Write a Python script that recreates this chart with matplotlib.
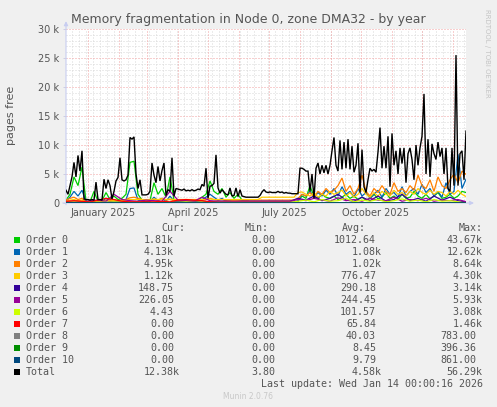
import numpy as np
import pandas as pd
import matplotlib
matplotlib.use('Agg')
import matplotlib.pyplot as plt
from matplotlib.patches import Rectangle

W, H = 497, 407
START = pd.Timestamp('2024-12-10')
END = pd.Timestamp('2026-01-14')

# ---- data (thousands of pages) ----
# Total: one value every 2 days from START
total_k = [2.2,1.5,3.0,4.5,7.0,4.5,8.2,5.5,9.0,0.7,
           0.6,0.6,0.5,0.6,0.5,3.6,0.6,0.6,0.5,4.1,
           2.5,4.0,3.0,0.7,2.0,3.8,4.4,7.8,4.0,3.8,
           4.0,4.8,11.3,11.0,11.4,5.0,2.5,4.0,1.4,1.4,
           1.4,1.5,2.0,6.9,4.8,3.5,6.3,3.8,5.6,6.9,
           1.3,2.3,2.0,7.8,1.2,2.5,2.4,2.3,2.2,2.4,
           2.1,2.2,2.1,2.3,2.1,2.2,2.4,2.3,3.2,2.9,
           6.0,0.8,2.9,3.0,3.4,8.3,2.6,1.7,2.3,1.9,
           1.5,1.4,2.6,1.2,1.3,2.6,1.1,2.3,1.2,1.1,
           1.0,1.0,1.0,1.0,1.0,1.0,1.0,1.3,1.9,2.3,
           1.9,1.8,1.9,1.8,1.8,1.8,2.0,1.8,1.9,1.7,
           1.8,1.7,1.7,1.6,1.6,1.6,1.6,6.0,6.0,5.8,
           5.5,5.5,2.0,5.0,0.8,6.0,6.9,5.0,6.5,5.2,
           6.5,5.0,6.5,9.0,11.3,6.5,5.5,10.8,5.8,10.5,
           6.0,11.0,5.8,9.8,5.3,6.5,10.3,1.8,9.2,2.8,
           1.8,4.0,6.0,5.5,5.8,5.3,8.8,13.0,6.0,9.8,
           6.0,11.5,2.8,12.0,6.5,9.0,5.0,9.5,6.8,9.5,
           3.5,8.5,9.5,7.5,4.0,10.0,6.5,9.5,11.5,18.8,
           5.0,11.0,4.5,10.2,8.5,7.5,10.5,8.0,9.5,5.0,
           9.5,2.5,2.0,9.5,3.0,25.5,3.0,8.5,9.0,4.0,
           12.4]

# Orders 0-3: one value every 4 days
order0_k = [0.5,1.5,4.5,3.0,6.2,0.3,0.2,2.0,0.3,0.4,
            1.8,0.6,1.2,0.6,0.8,1.5,7.0,7.2,1.5,0.5,
            0.3,0.4,3.5,1.5,2.5,1.0,4.5,0.5,0.3,0.3,
            0.3,0.3,0.4,0.5,1.0,1.5,3.8,2.0,1.5,2.5,
            1.0,1.8,0.8,1.5,0.5,0.2,0.1,0.1,0.1,0.1,
            0.1,0.1,0.1,0.1,0.1,0.1,0.1,0.1,0.3,1.2,
            0.8,3.0,1.0,0.8,1.5,1.0,0.8,1.2,0.6,1.0,
            1.5,0.8,1.2,0.6,1.0,0.5,0.8,1.5,0.7,1.0,
            1.8,0.8,1.2,0.6,1.5,0.8,1.0,2.0,1.2,0.8,
            1.5,0.7,1.2,1.8,0.8,1.0,1.5,0.8,1.2,2.0,1.8]
order1_k = [0.3,1.0,2.0,1.2,2.2,0.2,0.2,0.5,0.2,0.3,
            0.8,0.3,0.5,0.3,0.4,0.6,2.5,2.6,0.5,0.3,
            0.2,0.3,1.0,0.4,0.8,0.3,1.2,0.3,0.2,0.2,
            0.2,0.2,0.2,0.3,0.6,1.0,1.5,1.0,0.5,0.8,
            0.3,0.5,0.3,0.4,0.2,0.15,0.15,0.15,0.15,0.15,
            0.15,0.15,0.15,0.15,0.15,0.15,0.15,0.15,0.4,1.5,
            1.2,2.0,1.0,1.8,1.2,2.2,1.5,2.5,1.2,2.8,
            1.5,2.0,1.0,2.5,1.2,1.8,0.8,1.5,2.2,1.0,
            2.5,1.5,1.8,1.0,2.8,1.2,2.0,2.5,1.5,3.2,
            1.8,2.5,1.2,2.0,1.0,3.5,1.5,2.0,8.4,2.5,4.1]
order2_k = [0.5,0.8,1.0,0.6,0.8,0.2,0.2,0.3,0.2,0.3,
            0.5,0.4,0.5,0.4,0.5,0.6,0.9,1.0,0.8,0.6,
            0.5,0.4,0.6,0.5,0.8,0.5,0.6,0.4,0.4,0.4,
            0.4,0.4,0.4,0.4,0.5,0.6,0.8,0.6,0.5,0.6,
            0.4,0.5,0.4,0.4,0.4,0.4,0.5,0.5,0.5,0.5,
            0.5,0.5,0.5,0.5,0.5,0.5,0.5,0.5,0.8,1.5,
            1.2,1.8,1.0,2.0,1.5,2.5,1.8,2.2,3.0,4.3,
            2.0,3.0,1.5,2.5,4.8,2.0,1.2,2.5,1.8,3.0,
            2.0,1.5,3.5,2.0,2.5,1.8,3.0,2.2,4.8,3.0,
            2.5,4.0,2.0,4.5,3.0,2.5,4.0,5.0,3.5,5.5,4.95]
order3_k = [0.3,0.5,0.6,0.4,0.5,0.2,0.2,0.3,0.2,0.3,
            0.4,0.3,0.4,0.3,0.4,0.5,0.6,0.6,0.6,0.6,
            0.6,0.6,0.7,0.6,0.7,0.6,0.7,0.6,0.6,0.6,
            0.6,0.6,0.6,0.6,0.6,0.6,0.7,0.6,0.6,0.6,
            0.6,0.6,0.6,0.6,0.6,0.6,0.6,0.6,0.6,1.0,
            1.0,1.0,1.0,1.0,1.0,1.0,1.0,1.0,1.8,1.9,
            1.5,1.2,1.8,1.0,1.5,1.2,2.0,1.5,1.8,2.2,
            1.2,1.8,1.0,1.5,2.5,1.5,1.0,1.8,1.2,2.0,
            1.5,1.2,2.2,1.5,1.8,1.2,2.0,1.5,2.5,1.8,
            1.5,2.2,1.5,2.0,1.8,1.2,2.0,1.5,2.2,1.5,1.12]

# Orders 4-10: one value every 8 days
order4_k = [0.1,0.15,0.2,0.1,0.1,0.1,0.2,0.1,0.15,0.1,
            0.2,0.1,0.1,0.1,0.15,0.2,0.3,0.3,0.2,0.3,
            0.3,0.2,0.3,0.3,0.3,0.3,0.3,0.3,0.3,0.8,
            0.5,1.2,0.4,0.8,1.5,0.5,0.3,1.0,0.4,1.2,
            0.3,0.6,1.5,0.4,0.8,0.3,1.2,0.5,1.0,0.4,0.15]
order5_k = [0.2,0.3,0.2,0.4,0.5,0.3,1.5,0.6,0.4,0.3,
            0.5,0.4,0.3,2.0,0.5,0.4,0.3,1.0,0.4,0.3,
            0.3,0.3,0.3,0.3,0.3,0.3,0.3,0.3,0.3,0.6,
            0.4,0.8,0.5,0.3,0.9,0.4,0.6,0.3,0.8,0.5,
            0.4,1.0,0.3,0.6,0.4,0.8,0.3,0.5,0.4,0.6,0.23]
order6_k = [0.1,0.2,0.1,0.1,0.1,0.1,0.2,0.1,0.1,0.1,
            0.1,0.1,0.1,0.1,0.1,0.2,0.1,0.2,0.1,0.1,
            0.1,0.1,0.1,0.1,0.1,0.1,0.1,0.1,0.1,0.3,
            0.5,0.2,0.6,0.3,0.4,0.8,0.2,0.5,0.3,0.6,
            0.2,0.4,0.7,0.3,0.5,0.2,0.6,0.3,0.4,0.2,0.0]
order7_k = [0.3,0.4,0.3,0.2,0.5,0.8,0.6,0.3,0.2,0.2,
            0.2,0.2,0.3,0.2,0.5,0.6,0.5,0.4,0.2,0.1,
            0.1,0.1,0.1,0.1,0.1,0.1,0.1,0.1,0.1,0.05,
            0.05,0.05,0.05,0.05,0.05,0.05,0.05,0.05,0.05,0.05,
            0.05,0.05,0.05,0.05,0.05,0.05,0.05,0.05,0.05,0.05,0.0]
order8_k = [0.05,0.08,0.05,0.1,0.05,0.1,0.08,0.05,0.05,0.04,
            0.05,0.04,0.05,0.08,0.05,0.04,0.05,0.04,0.04,0.03,
            0.03,0.03,0.03,0.03,0.03,0.03,0.03,0.03,0.03,0.05,
            0.04,0.06,0.03,0.05,0.04,0.03,0.05,0.04,0.03,0.05,
            0.04,0.03,0.05,0.04,0.03,0.04,0.05,0.03,0.04,0.03,0.0]
order9_k = [0.02,0.03,0.02,0.04,0.02,0.03,0.02,0.01,0.01,0.01,
            0.01,0.01,0.02,0.01,0.01,0.01,0.01,0.01,0.01,0.0,
            0.0,0.0,0.0,0.0,0.0,0.0,0.0,0.0,0.0,0.01,
            0.01,0.02,0.01,0.01,0.01,0.0,0.01,0.01,0.0,0.01,
            0.01,0.0,0.01,0.01,0.0,0.01,0.01,0.0,0.01,0.0,0.0]
order10_k = [0.02,0.04,0.02,0.03,0.02,0.03,0.02,0.01,0.01,0.01,
             0.01,0.01,0.02,0.01,0.01,0.01,0.01,0.01,0.01,0.0,
             0.0,0.0,0.0,0.0,0.0,0.0,0.0,0.0,0.0,0.01,
             0.01,0.02,0.01,0.01,0.02,0.0,0.01,0.01,0.0,0.01,
             0.01,0.0,0.01,0.02,0.0,0.01,0.01,0.0,0.01,0.0,0.0]

names = ['Order 0', 'Order 1', 'Order 2', 'Order 3', 'Order 4', 'Order 5',
         'Order 6', 'Order 7', 'Order 8', 'Order 9', 'Order 10', 'Total']
colors = ['#00cc00', '#0066b3', '#ff8000', '#ffcc00', '#330099', '#990099',
          '#ccff00', '#ff0000', '#808080', '#008f00', '#00487d', '#000000']
cur_vals = ['1.81k', '4.13k', '4.95k', '1.12k', '148.75', '226.05', '4.43',
            '0.00', '0.00', '0.00', '0.00', '12.38k']
min_vals = ['0.00'] * 11 + ['3.80']
avg_vals = ['1012.64', '1.08k', '1.02k', '776.47', '290.18', '244.45', '101.57',
            '65.84', '40.03', '8.45', '9.79', '4.58k']
max_vals = ['43.67k', '12.62k', '8.64k', '4.30k', '3.14k', '5.93k', '3.08k',
            '1.46k', '783.00', '396.36', '861.00', '56.29k']
series = [(order0_k, '4D'), (order1_k, '4D'), (order2_k, '4D'), (order3_k, '4D'),
          (order4_k, '8D'), (order5_k, '8D'), (order6_k, '8D'), (order7_k, '8D'),
          (order8_k, '8D'), (order9_k, '8D'), (order10_k, '8D'), (total_k, '2D')]
tick_dates = ['2025-01-16', '2025-04-16', '2025-07-16', '2025-10-16']
tick_labels = ['January 2025', 'April 2025', 'July 2025', 'October 2025']

BG = '#f0f0f0'
TXT = '#555555'

def fx(x):
    return x / W

def fy(y):
    return 1 - y / H

fig = plt.figure(figsize=(W / 100, H / 100), dpi=100, facecolor=BG)
ax = fig.add_axes([fx(66), fy(203), 400 / W, 174 / H])
ax.set_facecolor('white')

# grid
for d in pd.date_range(START, END, freq='W-MON'):
    ax.axvline(d, color='#d9d9d9', lw=0.72, ls=(0, (1, 2)), zorder=1)
for d in pd.date_range('2025-01-01', END, freq='MS'):
    ax.axvline(d, color='#f2a0a0', lw=0.72, ls=(0, (1, 2)), zorder=1.5)
for v in range(1000, 30001, 1000):
    if v % 5000:
        ax.axhline(v, color='#d9d9d9', lw=0.72, ls=(0, (1, 2)), zorder=1)
for v in range(5000, 30001, 5000):
    ax.axhline(v, color='#f2a0a0', lw=0.72, ls=(0, (1, 2)), zorder=1.5)

for i, (vals, freq) in enumerate(series):
    dates = pd.date_range(START, periods=len(vals), freq=freq)
    ax.plot(dates, np.array(vals) * 1000, color=colors[i],
            lw=1.0 if names[i] == 'Total' else 0.9,
            zorder=3 + i, solid_joinstyle='miter')

ax.set_xlim(START, END)
ax.set_ylim(0, 30000)
for s in ax.spines.values():
    s.set_visible(False)
ax.set_yticks(range(0, 30001, 5000))
ax.set_yticklabels(['0'] + ['%d k' % (v // 1000) for v in range(5000, 30001, 5000)])
ax.set_xticks(pd.to_datetime(tick_dates))
ax.set_xticklabels(tick_labels)
ax.tick_params(axis='y', length=2, width=0.6, color='#c8c8e0', pad=3,
               labelsize=7, labelcolor=TXT)
ax.tick_params(axis='x', length=0, pad=3.5, labelsize=7, labelcolor=TXT)

# axis lines with arrows
axc = '#c8cdf0'
ax.annotate('', xy=(0, 1.045), xytext=(0, -0.01), xycoords='axes fraction',
            arrowprops=dict(arrowstyle='-|>', color=axc, lw=0.8,
                            mutation_scale=6, shrinkA=0, shrinkB=0),
            annotation_clip=False)
ax.annotate('', xy=(1.02, 0), xytext=(-0.008, 0), xycoords='axes fraction',
            arrowprops=dict(arrowstyle='-|>', color=axc, lw=0.8,
                            mutation_scale=6, shrinkA=0, shrinkB=0),
            annotation_clip=False)

# texts
fig.text(fx(248.5), fy(19), 'Memory fragmentation in Node 0, zone DMA32 - by year',
         ha='center', va='center', fontsize=9, color=TXT)
fig.text(fx(11), fy(115), 'pages free', rotation=90, ha='center', va='center',
         fontsize=8, color=TXT)
fig.text(fx(487), fy(53), 'RRDTOOL / TOBI OETIKER', rotation=270, ha='center',
         va='center', fontsize=5, color='#c4c4c4')

mono = 'DejaVu Sans Mono'
LFS = 7.2
row0 = 239.7
fig.text(fx(185), fy(227.7), 'Cur:', ha='right', va='center', family=mono,
         fontsize=LFS, color=TXT)
fig.text(fx(269), fy(227.7), 'Min:', ha='right', va='center', family=mono,
         fontsize=LFS, color=TXT)
fig.text(fx(366), fy(227.7), 'Avg:', ha='right', va='center', family=mono,
         fontsize=LFS, color=TXT)
fig.text(fx(482.7), fy(227.7), 'Max:', ha='right', va='center', family=mono,
         fontsize=LFS, color=TXT)

for i, name in enumerate(names):
    y = row0 + 12 * i
    fig.patches.append(Rectangle((fx(14), fy(y + 3)), 6 / W, 6 / H,
                                 transform=fig.transFigure, facecolor=colors[i],
                                 edgecolor='none'))
    fig.text(fx(26), fy(y), name, ha='left', va='center', family=mono,
             fontsize=LFS, color=TXT)
    cx = 180 if name == 'Total' else 174
    fig.text(fx(cx), fy(y), cur_vals[i], ha='right', va='center', family=mono,
             fontsize=LFS, color=TXT)
    fig.text(fx(275), fy(y), min_vals[i], ha='right', va='center', family=mono,
             fontsize=LFS, color=TXT)
    ax_ = 382 if avg_vals[i].endswith('k') else 376
    fig.text(fx(ax_), fy(y), avg_vals[i], ha='right', va='center', family=mono,
             fontsize=LFS, color=TXT)
    mx = 482.7 if max_vals[i].endswith('k') else 476.7
    fig.text(fx(mx), fy(y), max_vals[i], ha='right', va='center', family=mono,
             fontsize=LFS, color=TXT)

fig.text(fx(482.7), fy(383.7), 'Last update: Wed Jan 14 00:00:16 2026', ha='right',
         va='center', family=mono, fontsize=LFS, color=TXT)
fig.text(fx(248), fy(396.3), 'Munin 2.0.76', ha='center', va='center',
         fontsize=5.5, color='#c8c8c8')

fig.savefig('out.png', dpi=100, facecolor=BG)
